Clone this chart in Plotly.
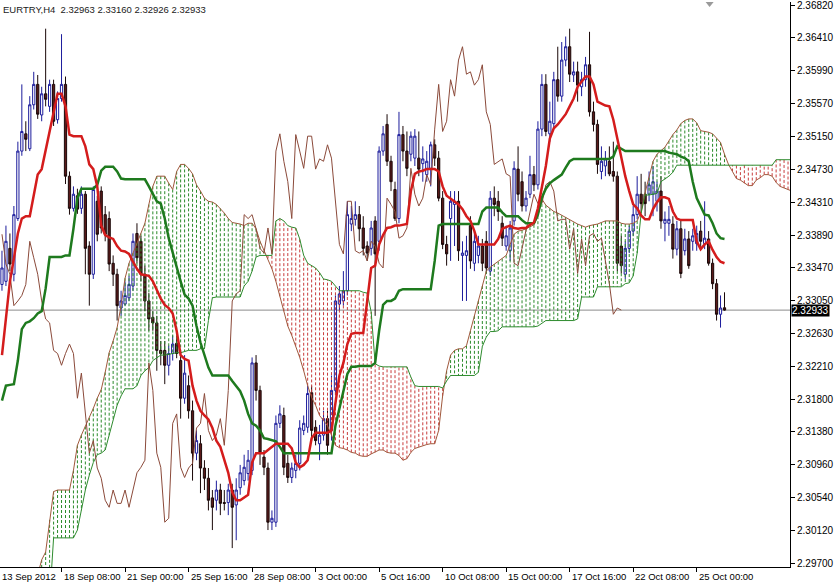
import plotly.graph_objects as go

# EURTRY H4 candles, one entry per bar (bar 0 = 13 Sep 2012 20:00)
open_ = [
    2.3326, 2.3330, 2.3372, 2.3339, 2.3410, 2.3496, 2.3518, 2.3499, 2.3555, 2.3581,
    2.3542, 2.3569, 2.3553, 2.3581, 2.3536, 2.3563, 2.3581, 2.3464, 2.3423, 2.3439,
    2.3423, 2.3441, 2.3375, 2.3339, 2.3432, 2.3445, 2.3415, 2.3410, 2.3353, 2.3339,
    2.3296, 2.3301, 2.3309, 2.3324, 2.3391, 2.3381, 2.3339, 2.3305, 2.3284, 2.3277,
    2.3242, 2.3242, 2.3223, 2.3238, 2.3251, 2.3229, 2.3181, 2.3197, 2.3165, 2.3111,
    2.3123, 2.3092, 2.3079, 2.3054, 2.3051, 2.3064, 2.3048, 2.3048, 2.3064, 2.3045,
    2.3067, 2.3076, 2.3085, 2.3089, 2.3226, 2.3191, 2.3106, 2.3092, 2.3023, 2.3023,
    2.3149, 2.3159, 2.3098, 2.3080, 2.3089, 2.3098, 2.3140, 2.3144, 2.3188, 2.3144,
    2.3123, 2.3134, 2.3155, 2.3140, 2.3191, 2.3301, 2.3305, 2.3318, 2.3403, 2.3409,
    2.3415, 2.3398, 2.3375, 2.3372, 2.3407, 2.3381, 2.3496, 2.3530, 2.3483, 2.3447,
    2.3410, 2.3517, 2.3496, 2.3492, 2.3487, 2.3487, 2.3480, 2.3466, 2.3474, 2.3504,
    2.3487, 2.3436, 2.3377, 2.3410, 2.3428, 2.3432, 2.3363, 2.3363, 2.3401, 2.3353,
    2.3363, 2.3375, 2.3381, 2.3343, 2.3436, 2.3432, 2.3404, 2.3375, 2.3369, 2.3407,
    2.3473, 2.3457, 2.3426, 2.3441, 2.3466, 2.3453, 2.3524, 2.3581, 2.3518, 2.3531,
    2.3587, 2.3566, 2.3612, 2.3629, 2.3593, 2.3597, 2.3578, 2.3587, 2.3606, 2.3546,
    2.3530, 2.3470, 2.3477, 2.3483, 2.3470, 2.3464, 2.3375, 2.3339, 2.3372, 2.3394,
    2.3415, 2.3441, 2.3441, 2.3441, 2.3441, 2.3432, 2.3445, 2.3404, 2.3404, 2.3403,
    2.3371, 2.3397, 2.3369, 2.3384, 2.3381, 2.3378, 2.3394, 2.3378, 2.3384, 2.3353,
    2.3327, 2.3288, 2.32963,
]
high = [
    2.3369, 2.3401, 2.3391, 2.3426, 2.3508, 2.3581, 2.3534, 2.3566, 2.3597, 2.3593,
    2.3578, 2.3652, 2.3587, 2.3587, 2.3572, 2.3645, 2.3591, 2.3470, 2.3451, 2.3448,
    2.3451, 2.3445, 2.3381, 2.3451, 2.3439, 2.3451, 2.3426, 2.3419, 2.3363, 2.3346,
    2.3318, 2.3330, 2.3337, 2.3391, 2.3404, 2.3388, 2.3350, 2.3315, 2.3292, 2.3286,
    2.3254, 2.3254, 2.3248, 2.3261, 2.3261, 2.3242, 2.3236, 2.3210, 2.3178, 2.3140,
    2.3134, 2.3102, 2.3092, 2.3064, 2.3076, 2.3072, 2.3064, 2.3072, 2.3072, 2.3079,
    2.3096, 2.3109, 2.3115, 2.3233, 2.3236, 2.3197, 2.3115, 2.3099, 2.3038, 2.3159,
    2.3172, 2.3169, 2.3109, 2.3099, 2.3109, 2.3153, 2.3159, 2.3197, 2.3197, 2.3153,
    2.3147, 2.3165, 2.3165, 2.3210, 2.3312, 2.3324, 2.3343, 2.3432, 2.3426, 2.3432,
    2.3426, 2.3413, 2.3381, 2.3407, 2.3413, 2.3502, 2.3528, 2.3543, 2.3490, 2.3457,
    2.3546, 2.3528, 2.3521, 2.3521, 2.3524, 2.3521, 2.3502, 2.3496, 2.3508, 2.3511,
    2.3496, 2.3445, 2.3388, 2.3445, 2.3445, 2.3445, 2.3381, 2.3388, 2.3413, 2.3394,
    2.3388, 2.3384, 2.3394, 2.3445, 2.3451, 2.3445, 2.3413, 2.3401, 2.3407, 2.3483,
    2.3502, 2.3470, 2.3445, 2.3490, 2.3477, 2.3534, 2.3594, 2.3594, 2.3559, 2.3597,
    2.3629, 2.3635, 2.3642, 2.3652, 2.3610, 2.3610, 2.3597, 2.3616, 2.3648, 2.3559,
    2.3536, 2.3502, 2.3496, 2.3502, 2.3508, 2.3470, 2.3388, 2.3381, 2.3401, 2.3426,
    2.3464, 2.3467, 2.3457, 2.3470, 2.3477, 2.3457, 2.3464, 2.3419, 2.3426, 2.3413,
    2.3407, 2.3407, 2.3397, 2.3394, 2.3397, 2.3401, 2.3407, 2.3432, 2.3394, 2.3359,
    2.3333, 2.3312, 2.33160,
]
low = [
    2.3318, 2.3324, 2.3343, 2.3330, 2.3407, 2.3490, 2.3496, 2.3496, 2.3549, 2.3537,
    2.3534, 2.3553, 2.3546, 2.3528, 2.3531, 2.3559, 2.3454, 2.3415, 2.3419, 2.3416,
    2.3416, 2.3339, 2.3299, 2.3333, 2.3381, 2.3391, 2.3381, 2.3343, 2.3324, 2.3280,
    2.3286, 2.3299, 2.3305, 2.3318, 2.3353, 2.3330, 2.3292, 2.3267, 2.3267, 2.3216,
    2.3223, 2.3199, 2.3210, 2.3229, 2.3232, 2.3155, 2.3174, 2.3155, 2.3076, 2.3102,
    2.3060, 2.3064, 2.3038, 2.3013, 2.3038, 2.3032, 2.3038, 2.3032, 2.2990, 2.3000,
    2.3058, 2.3070, 2.3076, 2.3083, 2.3178, 2.3096, 2.3083, 2.3013, 2.3013, 2.3017,
    2.3143, 2.3083, 2.3073, 2.3073, 2.3079, 2.3089, 2.3134, 2.3137, 2.3127, 2.3121,
    2.3102, 2.3127, 2.3109, 2.3127, 2.3185, 2.3292, 2.3299, 2.3312, 2.3394, 2.3401,
    2.3381, 2.3363, 2.3356, 2.3363, 2.3286, 2.3369, 2.3490, 2.3477, 2.3445, 2.3407,
    2.3404, 2.3483, 2.3464, 2.3483, 2.3477, 2.3464, 2.3457, 2.3457, 2.3451, 2.3477,
    2.3432, 2.3371, 2.3350, 2.3356, 2.3375, 2.3356, 2.3305, 2.3305, 2.3346, 2.3343,
    2.3353, 2.3343, 2.3340, 2.3337, 2.3413, 2.3407, 2.3375, 2.3369, 2.3356, 2.3401,
    2.3432, 2.3419, 2.3419, 2.3436, 2.3445, 2.3447, 2.3515, 2.3515, 2.3508, 2.3524,
    2.3559, 2.3559, 2.3604, 2.3584, 2.3584, 2.3559, 2.3566, 2.3578, 2.3540, 2.3521,
    2.3467, 2.3460, 2.3464, 2.3464, 2.3457, 2.3343, 2.3340, 2.3333, 2.3366, 2.3388,
    2.3409, 2.3419, 2.3413, 2.3432, 2.3413, 2.3419, 2.3397, 2.3381, 2.3388, 2.3359,
    2.3363, 2.3334, 2.3363, 2.3346, 2.3369, 2.3369, 2.3371, 2.3371, 2.3350, 2.3320,
    2.3280, 2.3271, 2.32926,
]
close = [
    2.3347, 2.3381, 2.3352, 2.3415, 2.3496, 2.3521, 2.3511, 2.3555, 2.3581, 2.3543,
    2.3569, 2.3562, 2.3581, 2.3534, 2.3563, 2.3581, 2.3464, 2.3423, 2.3441, 2.3422,
    2.3441, 2.3372, 2.3339, 2.3447, 2.3390, 2.3398, 2.3390, 2.3352, 2.3339, 2.3299,
    2.3305, 2.3312, 2.3326, 2.3381, 2.3360, 2.3339, 2.3305, 2.3282, 2.3277, 2.3242,
    2.3238, 2.3223, 2.3238, 2.3250, 2.3238, 2.3181, 2.3213, 2.3165, 2.3111, 2.3127,
    2.3092, 2.3079, 2.3051, 2.3042, 2.3064, 2.3047, 2.3047, 2.3064, 2.3042, 2.3064,
    2.3086, 2.3093, 2.3102, 2.3226, 2.3191, 2.3111, 2.3093, 2.3023, 2.3028, 2.3149,
    2.3161, 2.3093, 2.3080, 2.3092, 2.3098, 2.3143, 2.3149, 2.3187, 2.3140, 2.3127,
    2.3134, 2.3155, 2.3121, 2.3191, 2.3305, 2.3314, 2.3318, 2.3415, 2.3410, 2.3415,
    2.3397, 2.3372, 2.3366, 2.3398, 2.3365, 2.3496, 2.3518, 2.3483, 2.3457, 2.3410,
    2.3517, 2.3496, 2.3474, 2.3515, 2.3515, 2.3473, 2.3486, 2.3483, 2.3504, 2.3487,
    2.3436, 2.3377, 2.3365, 2.3432, 2.3432, 2.3369, 2.3366, 2.3369, 2.3356, 2.3381,
    2.3375, 2.3353, 2.3347, 2.3436, 2.3428, 2.3419, 2.3385, 2.3388, 2.3398, 2.3474,
    2.3441, 2.3426, 2.3436, 2.3466, 2.3453, 2.3524, 2.3581, 2.3521, 2.3534, 2.3587,
    2.3566, 2.3612, 2.3629, 2.3594, 2.3597, 2.3580, 2.3587, 2.3606, 2.3546, 2.3530,
    2.3479, 2.3483, 2.3486, 2.3467, 2.3464, 2.3353, 2.3350, 2.3372, 2.3394, 2.3415,
    2.3441, 2.3429, 2.3429, 2.3453, 2.3457, 2.3445, 2.3407, 2.3409, 2.3409, 2.3371,
    2.3397, 2.3340, 2.3384, 2.3350, 2.3388, 2.3391, 2.3381, 2.3385, 2.3353, 2.3327,
    2.3288, 2.3296, 2.32933,
]

# Ichimoku lines
tenkan = [
    2.3236, 2.3282, 2.3330, 2.3359, 2.3391, 2.3410, 2.3413, 2.3413, 2.3439, 2.3466,
    2.3473, 2.3496, 2.3521, 2.3543, 2.3569, 2.3569, 2.3553, 2.3517, 2.3515, 2.3515,
    2.3515, 2.3502, 2.3479, 2.3473, 2.3451, 2.3401, 2.3389, 2.3386, 2.3384, 2.3375,
    2.3369, 2.3368, 2.3365, 2.3355, 2.3346, 2.3339, 2.3338, 2.3337, 2.3330, 2.3318,
    2.3308, 2.3300, 2.3296, 2.3289, 2.3267, 2.3236, 2.3231, 2.3229, 2.3197, 2.3178,
    2.3165, 2.3159, 2.3154, 2.3143, 2.3127, 2.3119, 2.3102, 2.3086, 2.3061, 2.3051,
    2.3051, 2.3055, 2.3058, 2.3099, 2.3111, 2.3111, 2.3111, 2.3115, 2.3119, 2.3123,
    2.3123, 2.3123, 2.3123, 2.3117, 2.3099, 2.3093, 2.3096, 2.3102, 2.3130, 2.3137,
    2.3137, 2.3137, 2.3137, 2.3140, 2.3178, 2.3210, 2.3226, 2.3250, 2.3263, 2.3264,
    2.3264, 2.3264, 2.3305, 2.3347, 2.3350, 2.3377, 2.3389, 2.3398, 2.3399, 2.3401,
    2.3401, 2.3402, 2.3403, 2.3445, 2.3467, 2.3470, 2.3471, 2.3473, 2.3473, 2.3473,
    2.3470, 2.3451, 2.3439, 2.3435, 2.3432, 2.3428, 2.3422, 2.3413, 2.3407, 2.3394,
    2.3377, 2.3377, 2.3377, 2.3377, 2.3377, 2.3384, 2.3397, 2.3399, 2.3401, 2.3398,
    2.3397, 2.3398, 2.3398, 2.3402, 2.3405, 2.3423, 2.3450, 2.3477, 2.3512, 2.3525,
    2.3530, 2.3536, 2.3543, 2.3553, 2.3563, 2.3578, 2.3584, 2.3591, 2.3591, 2.3581,
    2.3559, 2.3556, 2.3554, 2.3553, 2.3536, 2.3512, 2.3486, 2.3464, 2.3445, 2.3428,
    2.3423, 2.3414, 2.3409, 2.3409, 2.3422, 2.3431, 2.3437, 2.3437, 2.3435, 2.3419,
    2.3410, 2.3408, 2.3408, 2.3408, 2.3408, 2.3381, 2.3371, 2.3377, 2.3381, 2.3370,
    2.3361, 2.3355, 2.3353,
]
kijun = [
    2.3178, 2.3197, 2.3198, 2.3199, 2.3229, 2.3269, 2.3277, 2.3279, 2.3283, 2.3289,
    2.3292, 2.3321, 2.3361, 2.3361, 2.3361, 2.3361, 2.3363, 2.3363, 2.3397, 2.3436,
    2.3448, 2.3448, 2.3448, 2.3448, 2.3453, 2.3471, 2.3476, 2.3476, 2.3476, 2.3470,
    2.3461, 2.3460, 2.3460, 2.3460, 2.3460, 2.3460, 2.3460, 2.3451, 2.3441, 2.3432,
    2.3429, 2.3410, 2.3385, 2.3366, 2.3348, 2.3330, 2.3313, 2.3308, 2.3299, 2.3273,
    2.3252, 2.3236, 2.3220, 2.3210, 2.3210, 2.3210, 2.3210, 2.3210, 2.3203, 2.3197,
    2.3190, 2.3178, 2.3161, 2.3149, 2.3146, 2.3140, 2.3130, 2.3129, 2.3127, 2.3126,
    2.3119, 2.3111, 2.3111, 2.3111, 2.3111, 2.3111, 2.3111, 2.3111, 2.3111, 2.3111,
    2.3111, 2.3111, 2.3111, 2.3111, 2.3146, 2.3168, 2.3191, 2.3212, 2.3221, 2.3221,
    2.3222, 2.3222, 2.3222, 2.3222, 2.3226, 2.3267, 2.3300, 2.3305, 2.3305, 2.3308,
    2.3318, 2.3320, 2.3320, 2.3320, 2.3320, 2.3320, 2.3320, 2.3320, 2.3320, 2.3356,
    2.3401, 2.3403, 2.3403, 2.3403, 2.3403, 2.3403, 2.3403, 2.3403, 2.3403, 2.3403,
    2.3403, 2.3419, 2.3424, 2.3424, 2.3424, 2.3424, 2.3418, 2.3413, 2.3413, 2.3413,
    2.3413, 2.3408, 2.3404, 2.3404, 2.3404, 2.3415, 2.3437, 2.3448, 2.3455, 2.3459,
    2.3462, 2.3466, 2.3475, 2.3483, 2.3486, 2.3486, 2.3486, 2.3486, 2.3486, 2.3486,
    2.3486, 2.3486, 2.3486, 2.3486, 2.3489, 2.3502, 2.3499, 2.3496, 2.3496, 2.3496,
    2.3496, 2.3496, 2.3496, 2.3496, 2.3496, 2.3496, 2.3496, 2.3496, 2.3494, 2.3493,
    2.3492, 2.3489, 2.3487, 2.3483, 2.3457, 2.3436, 2.3426, 2.3415, 2.3414, 2.3404,
    2.3391, 2.3385, 2.3384,
]
# senkou spans run 26 bars past the last candle (values below 2.297 are off the chart)
span_a = [
    2.2924, 2.2924, 2.2924, 2.2924, 2.2924, 2.2924, 2.2924, 2.2924, 2.2924, 2.2956,
    2.2975, 2.2985, 2.3026, 2.3062, 2.3064, 2.3064, 2.3064, 2.3064, 2.3089, 2.3121,
    2.3134, 2.3145, 2.3156, 2.3168, 2.3181, 2.3192, 2.3214, 2.3239, 2.3254, 2.3271,
    2.3299, 2.3334, 2.3353, 2.3366, 2.3379, 2.3391, 2.3404, 2.3428, 2.3451, 2.3464,
    2.3464, 2.3464, 2.3455, 2.3447, 2.3470, 2.3479, 2.3479, 2.3474, 2.3467, 2.3453,
    2.3445, 2.3436, 2.3432, 2.3431, 2.3428, 2.3423, 2.3417, 2.3410, 2.3405, 2.3404,
    2.3403, 2.3401, 2.3404, 2.3404, 2.3397, 2.3381, 2.3369, 2.3359, 2.3346, 2.3330,
    2.3311, 2.3292, 2.3273, 2.3261, 2.3248, 2.3233, 2.3216, 2.3197, 2.3182, 2.3172,
    2.3159, 2.3153, 2.3146, 2.3134, 2.3121, 2.3118, 2.3117, 2.3115, 2.3112, 2.3111,
    2.3108, 2.3107, 2.3107, 2.3110, 2.3112, 2.3115, 2.3115, 2.3112, 2.3111, 2.3111,
    2.3108, 2.3102, 2.3104, 2.3112, 2.3117, 2.3119, 2.3121, 2.3122, 2.3123, 2.3123,
    2.3140, 2.3184, 2.3216, 2.3236, 2.3242, 2.3244, 2.3244, 2.3248, 2.3267, 2.3286,
    2.3305, 2.3324, 2.3343, 2.3348, 2.3352, 2.3355, 2.3359, 2.3363, 2.3377, 2.3390,
    2.3394, 2.3395, 2.3397, 2.3399, 2.3402, 2.3413, 2.3435, 2.3427, 2.3423, 2.3419,
    2.3417, 2.3414, 2.3412, 2.3408, 2.3405, 2.3403, 2.3401, 2.3399, 2.3401, 2.3402,
    2.3403, 2.3405, 2.3407, 2.3407, 2.3407, 2.3407, 2.3404, 2.3403, 2.3403, 2.3404,
    2.3407, 2.3419, 2.3443, 2.3462, 2.3483, 2.3492, 2.3496, 2.3501, 2.3509, 2.3517,
    2.3523, 2.3531, 2.3535, 2.3537, 2.3537, 2.3532, 2.3522, 2.3521, 2.3520, 2.3518,
    2.3512, 2.3507, 2.3492, 2.3479, 2.3470, 2.3461, 2.3459, 2.3455, 2.3452, 2.3452,
    2.3459, 2.3462, 2.3466, 2.3466, 2.3464, 2.3456, 2.3451, 2.3449, 2.3447, 2.3445,
]
span_b = [
    2.2924, 2.2924, 2.2924, 2.2924, 2.2924, 2.2924, 2.2924, 2.2924, 2.2924, 2.2924,
    2.2924, 2.2924, 2.2924, 2.3003, 2.3003, 2.3003, 2.3003, 2.3003, 2.3003, 2.3013,
    2.3038, 2.3064, 2.3083, 2.3099, 2.3109, 2.3111, 2.3115, 2.3134, 2.3153, 2.3172,
    2.3184, 2.3193, 2.3193, 2.3193, 2.3197, 2.3210, 2.3216, 2.3220, 2.3229, 2.3233,
    2.3236, 2.3236, 2.3237, 2.3238, 2.3239, 2.3239, 2.3241, 2.3242, 2.3242, 2.3242,
    2.3244, 2.3244, 2.3280, 2.3309, 2.3310, 2.3310, 2.3310, 2.3310, 2.3310, 2.3310,
    2.3310, 2.3324, 2.3330, 2.3343, 2.3361, 2.3363, 2.3363, 2.3363, 2.3363, 2.3407,
    2.3410, 2.3407, 2.3401, 2.3399, 2.3398, 2.3384, 2.3363, 2.3353, 2.3350, 2.3347,
    2.3341, 2.3333, 2.3332, 2.3330, 2.3324, 2.3318, 2.3318, 2.3318, 2.3318, 2.3318,
    2.3318, 2.3316, 2.3315, 2.3291, 2.3225, 2.3222, 2.3221, 2.3221, 2.3221, 2.3221,
    2.3221, 2.3221, 2.3221, 2.3208, 2.3197, 2.3196, 2.3196, 2.3196, 2.3196, 2.3196,
    2.3196, 2.3194, 2.3203, 2.3210, 2.3210, 2.3210, 2.3210, 2.3210, 2.3210, 2.3210,
    2.3214, 2.3247, 2.3259, 2.3266, 2.3266, 2.3267, 2.3272, 2.3272, 2.3272, 2.3272,
    2.3272, 2.3272, 2.3272, 2.3272, 2.3272, 2.3273, 2.3276, 2.3280, 2.3280, 2.3280,
    2.3280, 2.3280, 2.3280, 2.3280, 2.3280, 2.3282, 2.3310, 2.3310, 2.3310, 2.3310,
    2.3323, 2.3323, 2.3323, 2.3323, 2.3323, 2.3323, 2.3323, 2.3327, 2.3328, 2.3337,
    2.3366, 2.3417, 2.3440, 2.3440, 2.3441, 2.3442, 2.3457, 2.3460, 2.3464, 2.3469,
    2.3478, 2.3478, 2.3478, 2.3478, 2.3478, 2.3478, 2.3478, 2.3478, 2.3478, 2.3478,
    2.3478, 2.3478, 2.3478, 2.3478, 2.3478, 2.3478, 2.3478, 2.3478, 2.3478, 2.3478,
    2.3478, 2.3478, 2.3478, 2.3478, 2.3478, 2.3485, 2.3485, 2.3485, 2.3485, 2.3485,
]

SHIFT = 26
last_price = 2.32933
title_text = "EURTRY,H4\u00a0\u00a02.32963 2.33160 2.32926 2.32933"

price_ticks = [2.36820, 2.36410, 2.35990, 2.35570, 2.35150, 2.34730, 2.34310,
               2.33890, 2.33470, 2.33050, 2.32630, 2.32210, 2.31800, 2.31380,
               2.30960, 2.30540, 2.30120, 2.29700]
time_tick_bars = [15, 31, 47, 63, 79, 95, 111, 127, 143, 159, 175]
time_tick_labels = ["18 Sep 08:00", "21 Sep 00:00", "25 Sep 16:00", "28 Sep 08:00",
                    "3 Oct 00:00", "5 Oct 16:00", "10 Oct 08:00", "15 Oct 00:00",
                    "17 Oct 16:00", "22 Oct 08:00", "25 Oct 00:00"]
first_label = "13 Sep 2012"

FONT = "Liberation Sans, Arial, sans-serif"
bars = list(range(len(close)))
cloud_bars = list(range(len(span_a)))

fig = go.Figure()

# dotted kumo hatching: one vertical dotted stroke per bar
for bullish, colour in ((True, "#2a8a2a"), (False, "#c83c3c")):
    xs, ys = [], []
    for k in cloud_bars:
        a, b = span_a[k], span_b[k]
        if a == b or (a > b) != bullish:
            continue
        xs += [k, k, None]
        ys += [a, b, None]
    fig.add_trace(go.Scatter(x=xs, y=ys, mode="lines", hoverinfo="skip",
                             line=dict(color=colour, width=1, dash="3px,2px")))

fig.add_trace(go.Scatter(x=cloud_bars, y=span_a, mode="lines", hoverinfo="skip",
                         line=dict(color="#a0583c", width=1)))
fig.add_trace(go.Scatter(x=cloud_bars, y=span_b, mode="lines", hoverinfo="skip",
                         line=dict(color="#2e8b2e", width=1)))

fig.add_trace(go.Candlestick(
    x=bars, open=open_, high=high, low=low, close=close,
    increasing=dict(line=dict(color="#1c1c9c", width=1), fillcolor="white"),
    decreasing=dict(line=dict(color="#1a0808", width=1), fillcolor="#5a1a1a"),
    whiskerwidth=0, hoverinfo="skip",
))

# chikou span: closes drawn 26 bars back
fig.add_trace(go.Scatter(x=[k - SHIFT for k in bars[SHIFT:]], y=close[SHIFT:],
                         mode="lines", hoverinfo="skip",
                         line=dict(color="#8b4a3a", width=1)))
fig.add_trace(go.Scatter(x=bars, y=kijun, mode="lines", hoverinfo="skip",
                         line=dict(color="#1e7a1e", width=2.5)))
fig.add_trace(go.Scatter(x=bars, y=tenkan, mode="lines", hoverinfo="skip",
                         line=dict(color="#d41c1c", width=2.5)))

annotations = [
    dict(text=title_text, x=0, y=1, xref="paper", yref="paper", xanchor="left",
         yanchor="top", showarrow=False, xshift=1, yshift=0,
         font=dict(size=9.5, color="#1a1a1a")),
    dict(text=first_label, x=-0.5, y=0, xref="x", yref="paper", xanchor="left",
         yanchor="top", showarrow=False, yshift=-2,
         font=dict(size=9.5, color="black")),
    dict(text=f"{last_price:.5f}", x=1, y=last_price, xref="paper", yref="y",
         xanchor="left", yanchor="middle", showarrow=False, xshift=1,
         bgcolor="black", borderpad=0, font=dict(size=10, color="white")),
]
for bar, label in zip(time_tick_bars, time_tick_labels):
    annotations.append(dict(text=label, x=bar, y=0, xref="x", yref="paper",
                            xanchor="left", yanchor="top", showarrow=False,
                            xshift=0, yshift=-2, font=dict(size=9.5, color="black")))

fig.update_layout(
    width=834, height=583,
    margin=dict(l=0, r=38, t=0, b=16),
    paper_bgcolor="white", plot_bgcolor="white",
    showlegend=False, hovermode=False, boxgap=0.2,
    font=dict(family=FONT, size=10, color="black"),
    annotations=annotations,
    shapes=[
        dict(type="line", xref="paper", yref="y", x0=0, x1=1,
             y0=last_price, y1=last_price, line=dict(color="#8c8c8c", width=1),
             layer="below"),
        dict(type="path", xref="paper", yref="paper",
             path="M 0.8932 1 L 0.9033 1 L 0.8982 0.9912 Z",
             fillcolor="#9a9a9a", line=dict(width=0)),
    ],
)
fig.update_xaxes(
    range=[-0.5, 198.5], showgrid=False, zeroline=False,
    showline=True, linecolor="black", linewidth=1,
    ticks="outside", ticklen=4, tickcolor="black",
    tickvals=time_tick_bars, showticklabels=False,
    rangeslider=dict(visible=False), fixedrange=True,
)
fig.update_yaxes(
    side="right", range=[2.29659, 2.3686], showgrid=False, zeroline=False,
    showline=True, linecolor="black", linewidth=1,
    ticks="outside", ticklen=4, tickcolor="black",
    tickvals=price_ticks, ticktext=[f"{v:.5f}" for v in price_ticks],
    tickfont=dict(size=10, color="black"), ticklabeloverflow="allow",
    fixedrange=True,
)

# the page's default body margin would push the 834x583 figure off the window
fig.write_html("out.html", config={"displayModeBar": False},
               post_script="document.body.style.margin='0';")
